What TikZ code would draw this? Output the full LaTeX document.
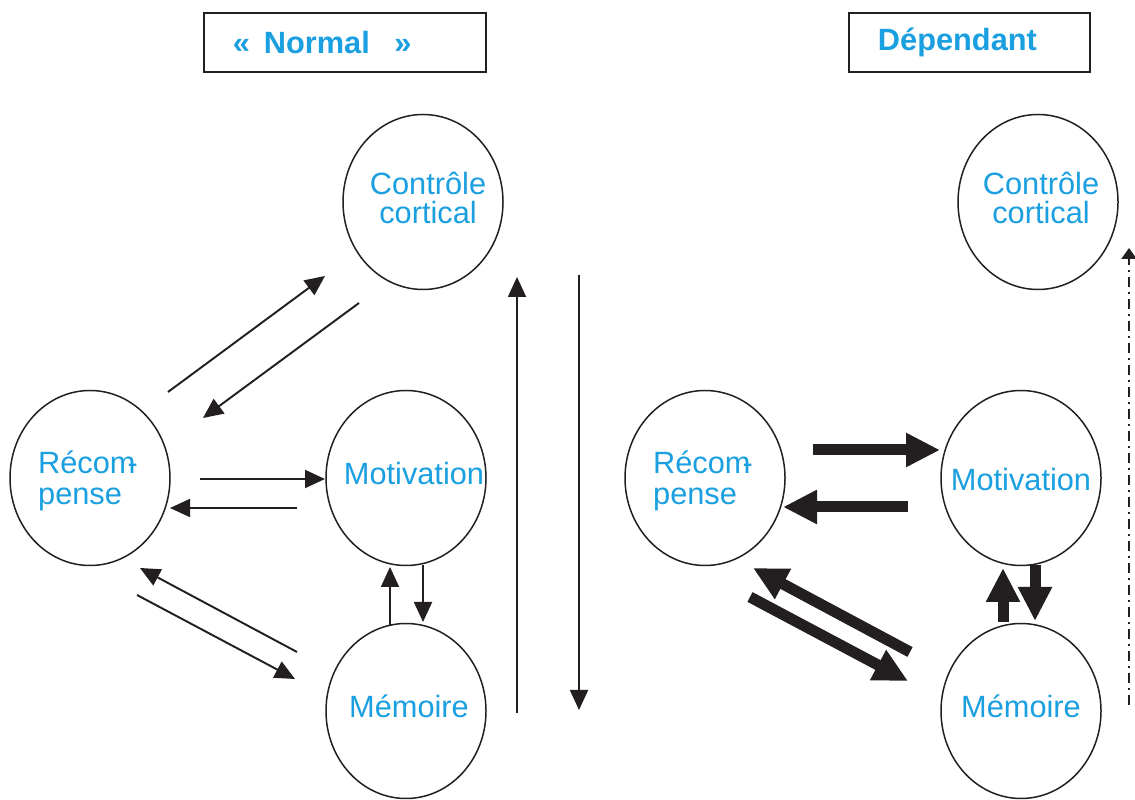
\documentclass[tikz,border=0pt]{standalone}
\usepackage{fontspec}
\setmainfont{Liberation Sans}
\usetikzlibrary{calc}
\usetikzlibrary{arrows.meta}
\usetikzlibrary{shapes.geometric}

\definecolor{bleu}{HTML}{1A9FE0}
\definecolor{trait}{HTML}{231F20}

\begin{document}
\begin{tikzpicture}[
  etat/.style={ellipse, draw=trait, line width=0.85pt, minimum width=3.2cm,
    minimum height=3.5cm, inner sep=0pt},
  txt/.style={text=bleu, font=\fontsize{17.5}{16.5}\selectfont, align=center, inner sep=0pt},
  recom/.style={txt, align=left, font=\fontsize{17.5}{18}\selectfont},
  titre/.style={draw=trait, line width=1.1pt, minimum height=1.18cm, inner xsep=0.58cm,
    align=left, text=bleu, font=\fontsize{17.5}{21}\selectfont\bfseries},
  fin/.style={draw=trait, line width=1.1pt, -{Triangle[length=0.4cm,width=0.36cm]}},
  gros/.style={draw=trait, line width=0.22cm, -{Triangle[length=0.68cm,width=0.64cm]}},
]

% page frame
\useasboundingbox (0,0) rectangle (22.7,16);
\fill[white] (0,0) rectangle (22.7,16);

% titles
\node[titre, text width=4.48cm, anchor=north west] (normal) at (4.06,15.76)
    {«\hspace{0.45em}Normal\hspace{0.8em}»};
\node[titre, text width=3.66cm, anchor=north west] (dep) at (16.96,15.76)
    {\raisebox{-0.06cm}{Dépendant}};

% circuits, normal brain
\node[etat] (ctlL) at (8.46,11.96) {};
\node[etat] (recL) at (1.8,6.44) {};
\node[etat] (motL) at (8.12,6.44) {};
\node[etat] (memL) at (8.12,1.78) {};

% circuits, dependent brain
\node[etat] (ctlR) at (20.76,11.96) {};
\node[etat] (recR) at (14.1,6.44) {};
\node[etat] (motR) at (20.42,6.44) {};
\node[etat] (memR) at (20.42,1.78) {};

% labels
\node[txt] (ctlLt) at ($(ctlL)+(0.1,0.08)$) {Contrôle\\cortical};
\node[recom] (recLt) at ($(recL)+(-0.04,-0.06)$) {Récom\kern-0.26em-\\pense};
\node[txt] (motLt) at ($(motL)+(0.16,0.08)$) {Motivation};
\node[txt] (memLt) at ($(memL)+(0.06,0.1)$) {Mémoire};
\node[txt] (ctlRt) at ($(ctlR)+(0.06,0.08)$) {Contrôle\\cortical};
\node[recom] (recRt) at ($(recR)+(-0.04,-0.06)$) {Récom\kern-0.26em-\\pense};
\node[txt] (motRt) at ($(motR)+(0,-0.04)$) {Motivation};
\node[txt] (memRt) at ($(memR)+(0,0.1)$) {Mémoire};

% normal: thin links
\draw[fin] ($(recL)+(1.56,1.72)$) -- ($(ctlL)+(-1.96,-1.48)$);
\draw[fin] ($(ctlL)+(-1.28,-2.02)$) -- ($(recL)+(2.26,1.2)$);
\draw[fin] ($(recL)+(2.2,-0.02)$) -- ($(motL)+(-1.62,-0.02)$);
\draw[fin] ($(motL)+(-2.18,-0.6)$) -- ($(recL)+(1.6,-0.6)$);
\draw[fin] ($(memL)+(-2.18,1.18)$) -- ($(recL)+(1.0,-1.8)$);
\draw[fin] ($(recL)+(0.94,-2.34)$) -- ($(memL)+(-2.22,0.64)$);
\draw[fin] ($(memL)+(-0.32,1.70)$) -- ($(motL)+(-0.32,-1.78)$);
\draw[fin] ($(motL)+(0.34,-1.74)$) -- ($(memL)+(0.34,1.78)$);

% long up and down arrows
\coordinate (monteB) at (10.34,1.74);
\coordinate (monteH) at (10.34,10.46);
\coordinate (descH) at (11.58,10.5);
\coordinate (descB) at (11.58,1.8);
\draw[fin] (monteB) -- (monteH);
\draw[fin] (descH) -- (descB);

% dependent: heavy links
\draw[gros] ($(recR)+(2.16,0.56)$) -- ($(motR)+(-1.62,0.56)$);
\draw[gros] ($(motR)+(-2.26,-0.58)$) -- ($(recR)+(1.56,-0.58)$);
\draw[gros] ($(memR)+(-2.22,1.18)$) -- ($(recR)+(0.96,-1.8)$);
\draw[gros] ($(recR)+(0.9,-2.38)$) -- ($(memR)+(-2.26,0.6)$);
\draw[gros] ($(memR)+(-0.36,1.78)$) -- ($(motR)+(-0.36,-1.80)$);
\draw[gros] ($(motR)+(0.28,-1.74)$) -- ($(memR)+(0.28,1.80)$);

% weak cortical control
\coordinate (pointB) at (22.58,1.9);
\coordinate (pointH) at (22.58,11.04);
\draw[draw=trait, line width=1.3pt, dash pattern=on 0.2cm off 0.1cm on 0.04cm off 0.1cm,
    -{Triangle[length=0.22cm,width=0.3cm]}] (pointB) -- (pointH);

\end{tikzpicture}
\end{document}
